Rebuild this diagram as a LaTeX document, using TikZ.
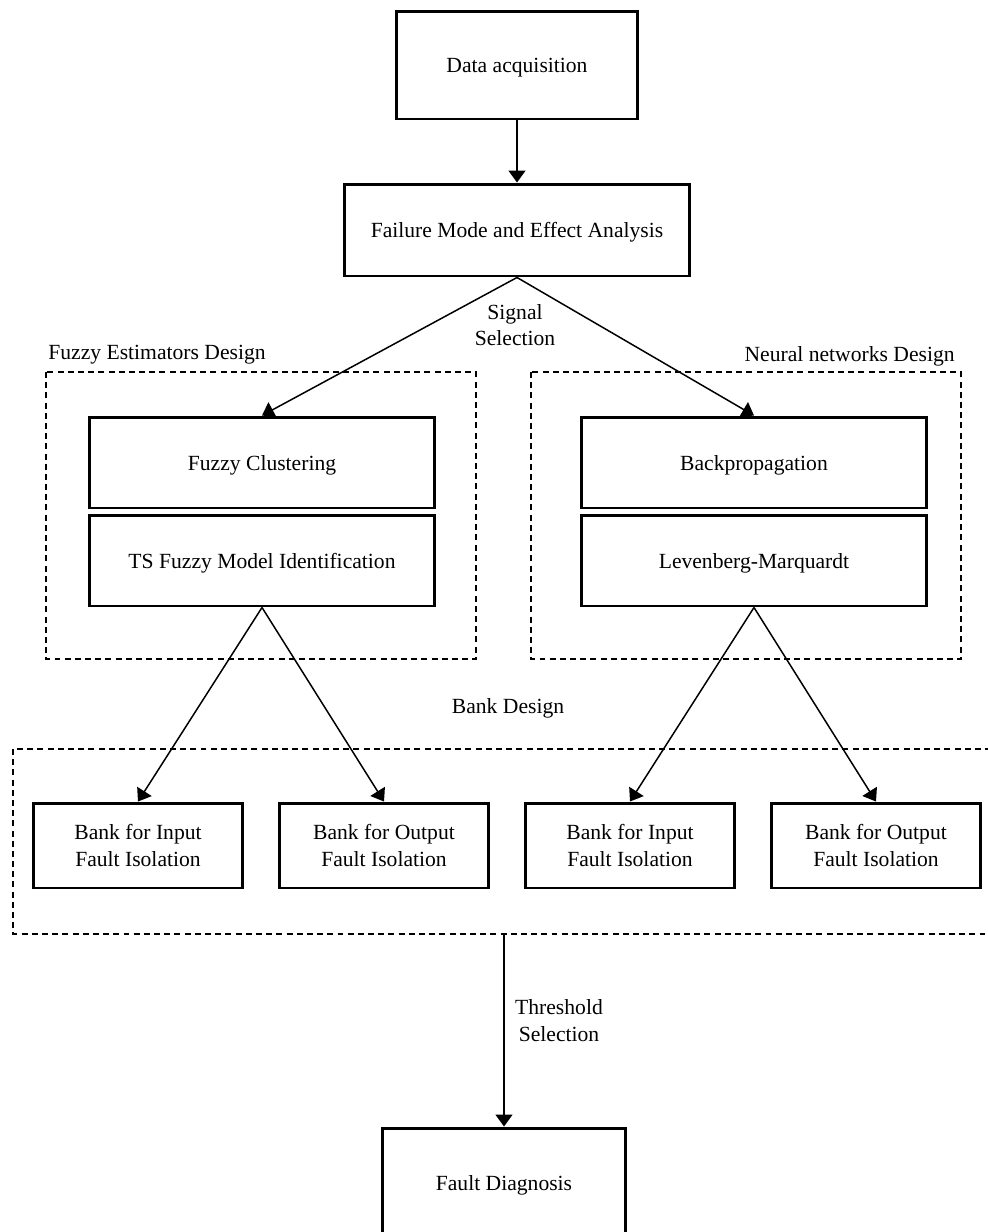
\documentclass[tikz,border=0pt]{standalone}
\usepackage{fontspec}
\setmainfont{Liberation Serif}
\usetikzlibrary{arrows.meta}
\begin{document}
\begin{tikzpicture}[x=0.02cm,y=-0.02cm,
  font=\fontsize{12.3}{15.2}\selectfont,
  box/.style={draw,line width=1.7pt,align=center,inner sep=0pt},
  onebox/.style={box,text height=1.12em,text depth=0.22em},
  conn/.style={line width=0.85pt,-{Triangle[length=0.24cm,width=0.34cm]}},
  group/.style={draw,line width=0.6pt,dash pattern=on 3.4pt off 2.4pt},
  lbl/.style={align=center,inner sep=0pt}]
\useasboundingbox (0,0) rectangle (988,1232);
\clip (0,0) rectangle (988,1232);
% dashed groups
\draw[group] (46,372) rectangle (476,659);
\draw[group] (531,372) rectangle (961,659);
\draw[group] (13,749) rectangle (1010,934);
\coordinate (bb) at (504,934);
% group labels
\node[lbl,anchor=west] (lfe) at (48,355) {Fuzzy Estimators Design};
\node[lbl,anchor=east] (lnn) at (955,356) {Neural networks Design};
\node[lbl] (lbd) at (508,708) {Bank Design};
% boxes
\node[onebox,minimum width=4.84cm,minimum height=2.16cm] (da) at (517,65) {Data acquisition};
\node[onebox,minimum width=6.92cm,minimum height=1.84cm] (fmea) at (517,230) {Failure Mode and Effect Analysis};
\node[onebox,minimum width=6.92cm,minimum height=1.82cm] (fc) at (262,462.5) {Fuzzy Clustering};
\node[onebox,minimum width=6.92cm,minimum height=1.82cm] (ts) at (262,560.5) {TS Fuzzy Model Identification};
\node[onebox,minimum width=6.92cm,minimum height=1.82cm] (bp) at (754,462.5) {Backpropagation};
\node[onebox,minimum width=6.92cm,minimum height=1.82cm] (lm) at (754,560.5) {Levenberg-Marquardt};
\node[box,minimum width=4.2cm,minimum height=1.7cm] (b1) at (138,845.5) {Bank for Input\\Fault Isolation};
\node[box,minimum width=4.2cm,minimum height=1.7cm] (b2) at (384,845.5) {Bank for Output\\Fault Isolation};
\node[box,minimum width=4.2cm,minimum height=1.7cm] (b3) at (630,845.5) {Bank for Input\\Fault Isolation};
\node[box,minimum width=4.2cm,minimum height=1.7cm] (b4) at (876,845.5) {Bank for Output\\Fault Isolation};
\node[onebox,minimum width=4.88cm,minimum height=2.2cm] (fd) at (504,1183) {Fault Diagnosis};
% labels on connectors
\node[lbl] (ss) at (515,325) {Signal\\Selection};
\node[lbl] (th) at (559,1020.5) {Threshold\\Selection};
% connectors
\draw[conn] (da.south) -- (fmea.north);
\draw[conn] (fmea.south) -- (fc.north);
\draw[conn] (fmea.south) -- (bp.north);
\draw[conn] (ts.south) -- (b1.north);
\draw[conn] (ts.south) -- (b2.north);
\draw[conn] (lm.south) -- (b3.north);
\draw[conn] (lm.south) -- (b4.north);
\draw[conn] (bb) -- (fd.north);
\end{tikzpicture}
\end{document}
